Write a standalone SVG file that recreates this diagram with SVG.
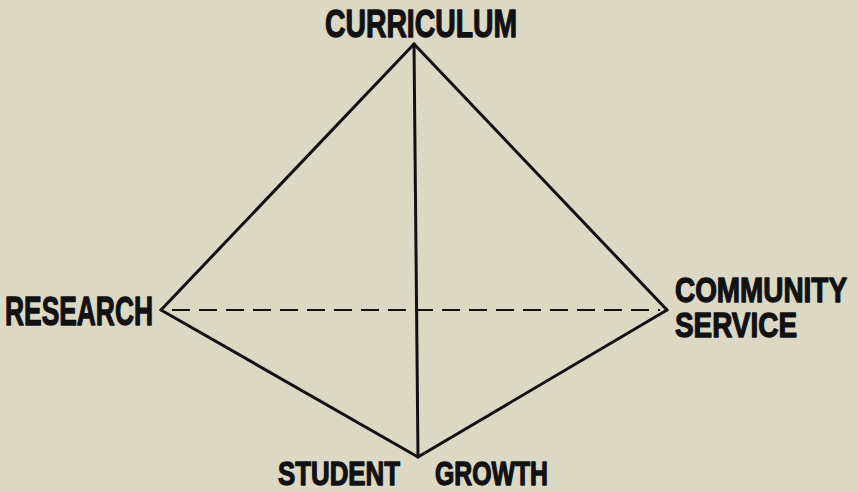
<svg xmlns="http://www.w3.org/2000/svg" width="858" height="492" viewBox="0 0 858 492">
  <style>
    .lbl { font-family: "Liberation Sans Narrow", "Liberation Sans", Arial, sans-serif; font-weight: bold; fill: #111; stroke: #111; stroke-width: 1.3; stroke-linejoin: round; }
    .edge { stroke: #111; stroke-width: 3; fill: none; stroke-linecap: round; stroke-linejoin: round; }
    .dash { stroke: #111; stroke-width: 2.2; fill: none; stroke-dasharray: 18 9; }
  </style>
  <rect x="0" y="0" width="858" height="492" fill="#dbd8c4"/>
  <g id="connectors">
    <line class="edge" x1="414" y1="44" x2="161" y2="310"/>
    <line class="edge" x1="414" y1="44" x2="667" y2="310"/>
    <line class="edge" x1="161" y1="310" x2="418" y2="457"/>
    <line class="edge" x1="667" y1="310" x2="418" y2="457"/>
    <line class="edge" x1="414" y1="44" x2="418" y2="457"/>
    <line class="dash" x1="172" y1="310" x2="660" y2="310"/>
  </g>
  <g id="curriculum">
    <text class="lbl" x="325" y="37" font-size="39" textLength="192" lengthAdjust="spacingAndGlyphs">CURRICULUM</text>
  </g>
  <g id="research">
    <text class="lbl" x="5" y="325" font-size="41" textLength="148" lengthAdjust="spacingAndGlyphs">RESEARCH</text>
  </g>
  <g id="community-service">
    <text class="lbl" x="675" y="302" font-size="35" textLength="172" lengthAdjust="spacingAndGlyphs">COMMUNITY</text>
    <text class="lbl" x="675" y="337" font-size="35" textLength="122" lengthAdjust="spacingAndGlyphs">SERVICE</text>
  </g>
  <g id="student-growth">
    <text class="lbl" x="278" y="485" font-size="33" textLength="122" lengthAdjust="spacingAndGlyphs">STUDENT</text>
    <text class="lbl" x="435" y="485" font-size="33" textLength="113" lengthAdjust="spacingAndGlyphs">GROWTH</text>
  </g>
</svg>
